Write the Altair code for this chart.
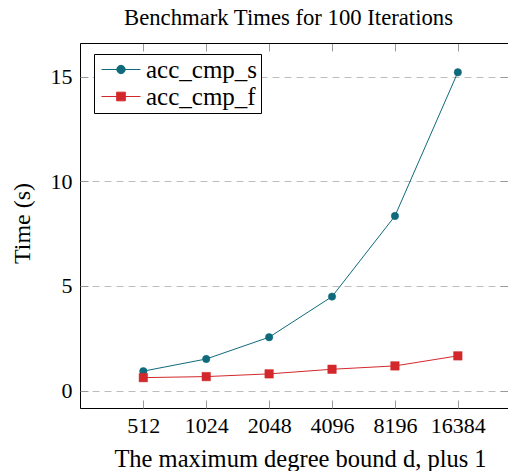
import altair as alt
import pandas as pd

# ---- data ----
sizes = ["512", "1024", "2048", "4096", "8196", "16384"]
series_names = ["acc_cmp_s", "acc_cmp_f"]
acc_cmp_s = [0.93, 1.51, 2.55, 4.49, 8.34, 15.2]
acc_cmp_f = [0.62, 0.67, 0.80, 1.02, 1.18, 1.66]
colors = ["#0f6a7b", "#d3282b"]
marker_sizes = [55, 72]
y_ticks = [0, 5, 10, 15]

rows = []
for name, vals in zip(series_names, [acc_cmp_s, acc_cmp_f]):
    for s, v in zip(sizes, vals):
        rows.append({"size": s, "time": v, "series": name})
df = pd.DataFrame(rows)

FONT = "Liberation Serif"
TICK = "#9a9a9a"

x_scale = alt.Scale(domain=sizes, type="point", padding=0.902, align=0.558)
y_scale = alt.Scale(domain=[-0.83, 16.6], nice=False, zero=False)
color_scale = alt.Scale(domain=series_names, range=colors)

# legend symbols: a short line with the marker in its middle
path_s = "M-0.667,0H2.583M1.308,0A0.35,0.35,0,1,1,0.608,0A0.35,0.35,0,1,1,1.308,0Z"
path_f = "M-0.667,0H2.583M0.598,-0.36H1.318V0.36H0.598Z"

legend = alt.Legend(
    title=None, orient="none", legendX=14, legendY=11,
    labelFont=FONT, labelFontSize=25, labelColor="black", labelOffset=24,
    strokeColor="black", fillColor="white", padding=3, rowPadding=1,
    symbolSize=576, symbolStrokeWidth=1, symbolOpacity=1, cornerRadius=0,
)

X = lambda axis: alt.X("size:N", scale=x_scale, sort=sizes, axis=axis)
Y = lambda axis: alt.Y("time:Q", scale=y_scale, axis=axis)

x_bottom = alt.Axis(
    title="The maximum degree bound d, plus 1", labelAngle=0,
    labelFont=FONT, labelFontSize=22, labelColor="black", labelPadding=7,
    ticks=False, domainColor="black", domainWidth=1, grid=False,
    titleFont=FONT, titleFontSize=24.5, titleFontWeight="normal", titleColor="black",
    titleX=220, titleY=58, titleBaseline="alphabetic", titleAlign="center",
)
y_left = alt.Axis(
    values=y_ticks, title="Time (s)",
    labelFont=FONT, labelFontSize=22, labelColor="black", labelPadding=8,
    ticks=False, domainColor="black", domainWidth=1,
    grid=True, gridDash=[7, 5], gridColor="#bdbdbd", gridWidth=1,
    titleFont=FONT, titleFontSize=24, titleFontWeight="normal", titleColor="black",
    titleX=-58, titleY=180, titleAngle=270, titleAlign="center", titleBaseline="middle",
)
# inner tick marks: tick-only axes pulled 8px into the plot
tick_kw = dict(labels=False, title=None, domain=False, grid=False,
               tickSize=8, tickColor=TICK, tickWidth=1, offset=-8)
x_bottom_ticks = alt.Axis(orient="bottom", **tick_kw)
y_left_ticks = alt.Axis(orient="left", values=y_ticks, **tick_kw)
x_top_ticks = alt.Axis(orient="top", **tick_kw)
y_right_ticks = alt.Axis(orient="right", values=y_ticks, **tick_kw)
# top frame line, carrying the chart title
x_top_frame = alt.Axis(
    orient="top", labels=False, ticks=False, domainColor="black", domainWidth=1, grid=False,
    title="Benchmark Times for 100 Iterations",
    titleFont=FONT, titleFontSize=22.7, titleFontWeight="normal", titleColor="black",
    titleX=208, titleY=-19, titleBaseline="alphabetic", titleAlign="center",
)

base = alt.Chart(df)

lines = base.mark_line(strokeWidth=1).encode(
    x=X(x_bottom), y=Y(y_left),
    color=alt.Color("series:N", scale=color_scale, sort=series_names, legend=None),
)

points = base.mark_point(filled=True, opacity=1, strokeWidth=0.5).encode(
    x=X(None), y=Y(None),
    color=alt.Color("series:N", scale=color_scale, sort=series_names, legend=None),
    stroke=alt.Stroke("series:N", scale=color_scale, sort=series_names, legend=None),
    shape=alt.Shape("series:N", scale=alt.Scale(domain=series_names, range=["circle", "square"]), legend=None),
    size=alt.Size("series:N", scale=alt.Scale(domain=series_names, range=marker_sizes), legend=None),
)

ticks_a = base.mark_point(opacity=0).encode(x=X(x_bottom_ticks), y=Y(y_left_ticks))
ticks_b = base.mark_point(opacity=0).encode(x=X(x_top_ticks), y=Y(y_right_ticks))
frame_top = base.mark_point(opacity=0).encode(x=X(x_top_frame), y=Y(None))

legend_layer = base.transform_filter("false").mark_point(filled=True).encode(
    x=X(None), y=Y(None),
    color=alt.Color("series:N", scale=color_scale, sort=series_names, legend=legend),
    stroke=alt.Stroke("series:N", scale=color_scale, sort=series_names, legend=legend),
    shape=alt.Shape("series:N", scale=alt.Scale(domain=series_names, range=[path_s, path_f]),
                    sort=series_names, legend=legend),
)

chart = alt.layer(
    lines, points, ticks_a, ticks_b, frame_top, legend_layer
).resolve_axis(
    x="independent", y="independent"
).resolve_scale(
    shape="independent"
).resolve_legend(
    color="independent", stroke="independent", shape="independent"
).properties(
    width=428, height=365,
    autosize=alt.AutoSizeParams(type="none"),
    padding={"left": 72, "top": 35, "right": 0, "bottom": 63},
).configure_view(stroke=None).configure(background="white")

chart.save("out.html", embed_options={"renderer": "svg", "actions": False})
